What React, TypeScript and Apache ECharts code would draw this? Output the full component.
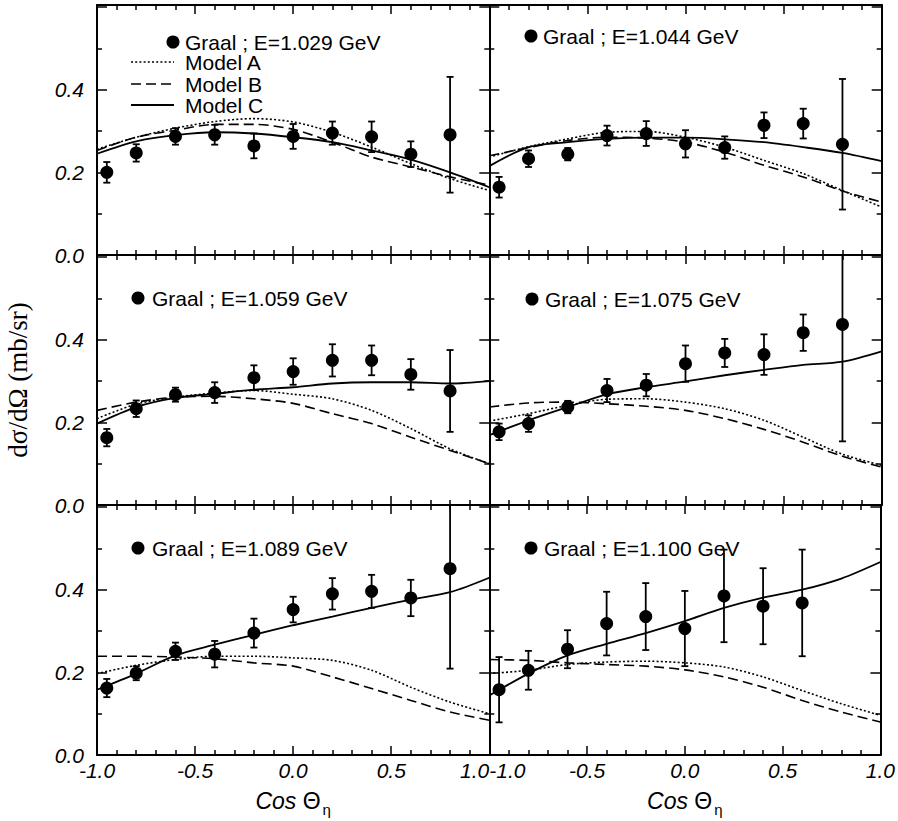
import React, { useEffect, useRef } from 'react';
import * as echarts from 'echarts';

// ---- abscissae ----
const COS_CURVE = [-1.0, -0.8, -0.6, -0.4, -0.2, 0.0, 0.2, 0.4, 0.6, 0.8, 1.0];
const COS_DATA = [-0.95, -0.8, -0.6, -0.4, -0.2, 0.0, 0.2, 0.4, 0.6, 0.8];

// ---- panel labels ----
const ENERGIES = ['1.029', '1.044', '1.059', '1.075', '1.089', '1.100'];

// ---- E = 1.029 GeV ----
const graal1029 = [0.200, 0.247, 0.287, 0.291, 0.264, 0.287, 0.295, 0.286, 0.244, 0.291];
const err1029 = [0.025, 0.021, 0.020, 0.024, 0.030, 0.030, 0.028, 0.037, 0.031, 0.140];
const modelA1029 = [0.256, 0.285, 0.307, 0.323, 0.330, 0.322, 0.297, 0.261, 0.221, 0.185, 0.156];
const modelB1029 = [0.253, 0.285, 0.302, 0.316, 0.316, 0.304, 0.273, 0.237, 0.213, 0.189, 0.169];
const modelC1029 = [0.245, 0.275, 0.290, 0.297, 0.294, 0.285, 0.273, 0.253, 0.231, 0.200, 0.164];

// ---- E = 1.044 GeV ----
const graal1044 = [0.164, 0.233, 0.244, 0.289, 0.294, 0.269, 0.260, 0.314, 0.318, 0.268];
const err1044 = [0.025, 0.020, 0.015, 0.024, 0.030, 0.033, 0.027, 0.031, 0.036, 0.158];
const modelA1044 = [0.237, 0.262, 0.281, 0.297, 0.299, 0.285, 0.261, 0.229, 0.197, 0.156, 0.116];
const modelB1044 = [0.240, 0.260, 0.277, 0.285, 0.283, 0.273, 0.249, 0.217, 0.189, 0.155, 0.128];
const modelC1044 = [0.215, 0.261, 0.273, 0.281, 0.284, 0.284, 0.280, 0.273, 0.261, 0.247, 0.227];

// ---- E = 1.059 GeV ----
const graal1059 = [0.163, 0.233, 0.267, 0.272, 0.308, 0.323, 0.350, 0.350, 0.316, 0.276];
const err1059 = [0.021, 0.020, 0.017, 0.025, 0.030, 0.032, 0.039, 0.036, 0.037, 0.099];
const modelA1059 = [0.209, 0.244, 0.261, 0.271, 0.277, 0.268, 0.257, 0.229, 0.185, 0.136, 0.100];
const modelB1059 = [0.229, 0.249, 0.261, 0.263, 0.257, 0.246, 0.221, 0.197, 0.164, 0.132, 0.100];
const modelC1059 = [0.197, 0.237, 0.259, 0.269, 0.279, 0.285, 0.294, 0.297, 0.297, 0.294, 0.300];

// ---- E = 1.075 GeV ----
const graal1075 = [0.177, 0.197, 0.237, 0.277, 0.290, 0.342, 0.368, 0.364, 0.417, 0.437];
const err1075 = [0.020, 0.020, 0.015, 0.028, 0.027, 0.044, 0.034, 0.049, 0.044, 0.283];
const modelA1075 = [0.203, 0.221, 0.241, 0.256, 0.257, 0.249, 0.233, 0.205, 0.164, 0.123, 0.096];
const modelB1075 = [0.237, 0.247, 0.249, 0.245, 0.239, 0.229, 0.209, 0.183, 0.152, 0.118, 0.092];
const modelC1075 = [0.169, 0.205, 0.237, 0.268, 0.285, 0.299, 0.314, 0.327, 0.339, 0.347, 0.372];

// ---- E = 1.089 GeV ----
const graal1089 = [0.162, 0.198, 0.251, 0.244, 0.295, 0.352, 0.390, 0.396, 0.380, 0.451];
const err1089 = [0.022, 0.017, 0.021, 0.032, 0.035, 0.031, 0.038, 0.040, 0.044, 0.242];
const modelA1089 = [0.197, 0.217, 0.231, 0.239, 0.239, 0.235, 0.229, 0.205, 0.164, 0.128, 0.100];
const modelB1089 = [0.239, 0.239, 0.237, 0.233, 0.223, 0.215, 0.189, 0.161, 0.132, 0.104, 0.084];
const modelC1089 = [0.158, 0.197, 0.241, 0.267, 0.291, 0.314, 0.335, 0.356, 0.376, 0.394, 0.429];

// ---- E = 1.100 GeV ----
const graal1100 = [0.158, 0.205, 0.256, 0.318, 0.335, 0.306, 0.385, 0.360, 0.368];
const err1100 = [0.079, 0.047, 0.046, 0.077, 0.081, 0.091, 0.112, 0.092, 0.129];
const modelA1100 = [0.197, 0.205, 0.219, 0.225, 0.227, 0.223, 0.213, 0.189, 0.156, 0.124, 0.096];
const modelB1100 = [0.231, 0.229, 0.223, 0.219, 0.215, 0.206, 0.189, 0.164, 0.132, 0.104, 0.080];
const modelC1100 = [0.144, 0.197, 0.241, 0.269, 0.295, 0.324, 0.356, 0.381, 0.400, 0.427, 0.467];

const PANELS = [
  { g: graal1029, e: err1029, a: modelA1029, b: modelB1029, c: modelC1029 },
  { g: graal1044, e: err1044, a: modelA1044, b: modelB1044, c: modelC1044 },
  { g: graal1059, e: err1059, a: modelA1059, b: modelB1059, c: modelC1059 },
  { g: graal1075, e: err1075, a: modelA1075, b: modelB1075, c: modelC1075 },
  { g: graal1089, e: err1089, a: modelA1089, b: modelB1089, c: modelC1089 },
  { g: graal1100, e: err1100, a: modelA1100, b: modelB1100, c: modelC1100 },
];

const Y_MAX = 0.605;
const SANS = 'Arial';
const SERIF = "'Liberation Serif'";

// layout
const COL_LEFT = [97, 489.3];
const COL_W = [392.3, 392.4];
const ROW_TOP = [5, 255, 505];
const ROW_H = 250;

// annotation positions (marker centre x, y; text x)
const ANNOT = [
  [173, 42, 185],
  [531, 36, 543],
  [138, 298, 152],
  [532, 299, 545],
  [138, 548, 152],
  [531, 548, 544],
];

export default function App() {
  const ref = useRef<HTMLDivElement>(null);

  useEffect(() => {
    if (!ref.current) return;
    const chart = echarts.init(ref.current, null, { renderer: 'svg' });

    const black = '#000';
    const grids: any[] = [];
    const xAxes: any[] = [];
    const yAxes: any[] = [];
    const series: any[] = [];

    PANELS.forEach((p, i) => {
      const row = Math.floor(i / 2);
      const col = i % 2;
      grids.push({ left: COL_LEFT[col], top: ROW_TOP[row], width: COL_W[col], height: ROW_H, containLabel: false });
      const isBottom = row === 2;
      const isLeft = col === 0;

      const baseX = {
        gridIndex: i,
        type: 'value',
        min: -1,
        max: 1,
        interval: 0.5,
        splitLine: { show: false },
        axisLine: { onZero: false, lineStyle: { color: black, width: 2 } },
        axisTick: { inside: true, length: 9, lineStyle: { color: black, width: 1.5 } },
        minorTick: { show: true, splitNumber: 5, length: 5, lineStyle: { color: black, width: 1.5 } },
      };
      xAxes.push({
        ...baseX,
        position: 'bottom',
        axisLabel: {
          show: isBottom,
          margin: 5,
          fontFamily: SANS,
          fontStyle: 'italic',
          fontSize: 21,
          color: black,
          formatter: (v: number) => v.toFixed(1),
          alignMinLabel: isLeft ? 'center' : 'left',
          alignMaxLabel: isLeft ? 'right' : 'center',
        },
        name: isBottom ? '{i|Cos }{g|Θ}{s|η}' : '',
        nameLocation: 'middle',
        nameGap: 30,
        nameTextStyle: {
          rich: {
            i: { fontFamily: SANS, fontStyle: 'italic', fontSize: 23, color: black },
            g: { fontFamily: SANS, fontSize: 23, color: black },
            s: { fontFamily: SANS, fontSize: 15, color: black, padding: [17, 0, 0, 2] },
          },
        },
      });
      xAxes.push({ ...baseX, position: 'top', axisLabel: { show: false } });

      const baseY = {
        gridIndex: i,
        type: 'value',
        min: 0,
        max: Y_MAX,
        interval: 0.2,
        splitLine: { show: false },
        axisLine: { onZero: false, lineStyle: { color: black, width: 2 } },
        axisTick: { inside: true, length: 10, lineStyle: { color: black, width: 1.5 } },
        minorTick: { show: true, splitNumber: 2, length: 5, lineStyle: { color: black, width: 1.5 } },
      };
      yAxes.push({
        ...baseY,
        position: 'left',
        axisLabel: {
          show: isLeft,
          margin: 13,
          fontFamily: SANS,
          fontStyle: 'italic',
          fontSize: 21,
          color: black,
          formatter: (v: number) => (v > 0.5 ? '' : v.toFixed(1)),
        },
        name: i === 2 ? 'dσ/dΩ (mb/sr)' : '',
        nameLocation: 'middle',
        nameRotate: 90,
        nameGap: 66,
        nameTextStyle: { fontFamily: SERIF, fontSize: 27, color: black },
      });
      yAxes.push({ ...baseY, position: 'right', axisLabel: { show: false } });

      const xi = 2 * i;
      const yi = 2 * i;
      const curve = (vals: number[], type: any, width: number) => ({
        type: 'line',
        xAxisIndex: xi,
        yAxisIndex: yi,
        data: COS_CURVE.map((x, j) => [x, vals[j]]),
        symbol: 'none',
        showSymbol: false,
        smooth: 0.3,
        lineStyle: { color: black, width, type },
        silent: true,
        z: 2,
      });
      series.push(curve(p.a, [2, 2.2], 1.6));
      series.push(curve(p.b, [10, 5], 1.6));
      series.push(curve(p.c, 'solid', 1.8));

      series.push({
        type: 'custom',
        xAxisIndex: xi,
        yAxisIndex: yi,
        data: p.g.map((v, j) => [COS_DATA[j], v, p.e[j]]),
        encode: { x: 0, y: 1 },
        z: 3,
        renderItem: (params: any, api: any) => {
          const x = api.value(0);
          const v = api.value(1);
          const e = api.value(2);
          const topV = Math.min(v + e, Y_MAX);
          const lo = api.coord([x, v - e]);
          const hi = api.coord([x, topV]);
          const cw = 3.5;
          const st = { stroke: black, lineWidth: 1.8 };
          const children: any[] = [
            { type: 'line', shape: { x1: lo[0], y1: lo[1], x2: hi[0], y2: hi[1] }, style: st },
            { type: 'line', shape: { x1: lo[0] - cw, y1: lo[1], x2: lo[0] + cw, y2: lo[1] }, style: st },
          ];
          if (v + e <= Y_MAX) {
            children.push({ type: 'line', shape: { x1: hi[0] - cw, y1: hi[1], x2: hi[0] + cw, y2: hi[1] }, style: st });
          }
          return { type: 'group', children };
        },
      });

      series.push({
        type: 'scatter',
        xAxisIndex: xi,
        yAxisIndex: yi,
        data: p.g.map((v, j) => [COS_DATA[j], v]),
        symbol: 'circle',
        symbolSize: 13,
        itemStyle: { color: black, opacity: 1 },
        z: 4,
      });
    });

    // annotations
    const graphic: any[] = [];
    ENERGIES.forEach((en, i) => {
      const [cx, cy, tx] = ANNOT[i];
      graphic.push({ type: 'circle', shape: { cx, cy, r: 6.5 }, style: { fill: black } });
      graphic.push({
        type: 'text',
        x: tx,
        y: cy,
        style: { text: `Graal ; E=${en} GeV`, fontFamily: SANS, fontSize: 21, lineHeight: 19, fill: black, align: 'left', verticalAlign: 'middle' },
      });
    });
    const legendRows = [
      { label: 'Model A', y: 62, dash: [2, 2.2], w: 1.6 },
      { label: 'Model B', y: 84, dash: [10, 5], w: 1.6 },
      { label: 'Model C', y: 105, dash: null, w: 1.8 },
    ];
    legendRows.forEach((r) => {
      graphic.push({
        type: 'line',
        shape: { x1: 131, y1: r.y, x2: 174, y2: r.y },
        style: { stroke: black, lineWidth: r.w, lineDash: r.dash || undefined },
      });
      graphic.push({
        type: 'text',
        x: 185,
        y: r.y,
        style: { text: r.label, fontFamily: SANS, fontSize: 21, lineHeight: 19, fill: black, align: 'left', verticalAlign: 'middle' },
      });
    });

    chart.setOption({
      animation: false,
      backgroundColor: '#fff',
      grid: grids,
      xAxis: xAxes,
      yAxis: yAxes,
      series,
      graphic,
    });

    return () => chart.dispose();
  }, []);

  return <div ref={ref} style={{ position: 'fixed', left: 0, top: 0, width: 898, height: 821 }} />;
}
